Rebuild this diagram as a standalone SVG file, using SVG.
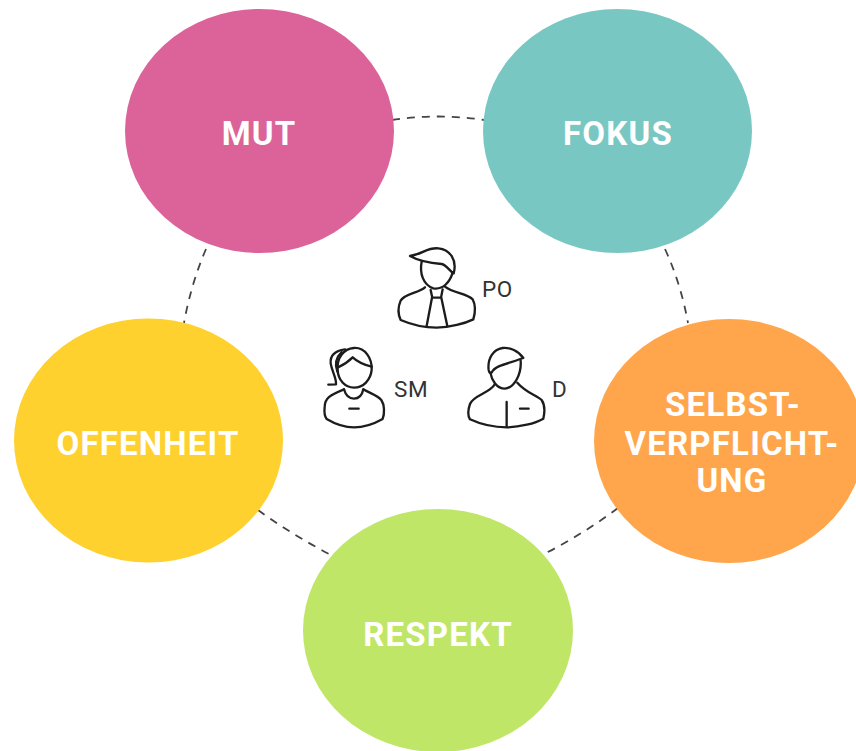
<svg xmlns="http://www.w3.org/2000/svg" width="856" height="751" viewBox="0 0 856 751">
<style>
.n{font-family:"Roboto","Liberation Sans",sans-serif;font-weight:700;font-size:33px;fill:#fff;text-anchor:middle;letter-spacing:1.2px}
.l{font-family:"Roboto","Liberation Sans",sans-serif;font-size:22.500px;fill:#333;letter-spacing:.6px}
.c{fill:none;stroke:#444;stroke-width:1.8;stroke-dasharray:8 7}
.i{fill:none;stroke:#1c1c1c;stroke-width:7;stroke-linecap:round;stroke-linejoin:round}
</style>
<rect width="856" height="751" fill="#fff"/>
<g id="connectors">
<path class="c" d="M392 120Q438 113 484 120"/>
<path class="c" d="M206 249Q191 284 184 323"/>
<path class="c" d="M665 249Q681 284 688 323"/>
<path class="c" d="M258 510Q294 536 333 556"/>
<path class="c" d="M618 508Q582 535 542 555"/>
</g>
<g id="node-mut"><ellipse cx="259.500" cy="131" rx="134.500" ry="122" fill="#db6399"/><text class="n" x="259" y="145">MUT</text></g>
<g id="node-fokus"><ellipse cx="617.500" cy="131" rx="134.500" ry="122" fill="#79c7c2"/><text class="n" x="618" y="145">FOKUS</text></g>
<g id="node-offenheit"><ellipse cx="148.500" cy="440.500" rx="134.500" ry="122" fill="#ffd12e"/><text class="n" x="148" y="455">OFFENHEIT</text></g>
<g id="node-selbst"><ellipse cx="729" cy="441" rx="135" ry="122" fill="#ffa64d"/><text class="n" x="733" y="416">SELBST-</text><text class="n" x="732" y="455">VERPFLICHT-</text><text class="n" x="732" y="492">UNG</text></g>
<g id="node-respekt"><ellipse cx="438" cy="630.500" rx="135" ry="121.500" fill="#c0e668"/><text class="n" x="438" y="646">RESPEKT</text></g>
<g id="node-po">
<g transform="translate(310 230) scale(.3333)" class="i">
<path d="M300 78C340 72 350 52 385 55C420 58 442 90 431 130C420 125 410 105 395 102C370 100 330 95 300 78Z"/>
<path d="M335 95C328 130 340 165 370 175C400 180 420 155 428 128"/>
<path d="M345 172C325 190 285 190 272 212C262 235 265 255 272 270C300 282 340 293 380 293C420 293 465 280 490 268C497 245 497 225 488 208C470 190 430 190 405 170"/>
<path d="M362 180L367 203L393 203L398 178M366 203L350 288M394 203L412 288"/>
</g>
<text class="l" x="482" y="297">PO</text>
</g>
<g id="node-sm">
<g transform="translate(310 230) scale(.3333)" class="i">
<path d="M132 354C165 352 187 385 185 420C182 450 160 473 132 473C105 473 84 450 83 420C80 385 100 356 132 354Z"/>
<path d="M84 412C100 405 115 395 128 382C142 395 165 405 185 410"/>
<path d="M105 358C75 362 60 375 62 400C66 425 80 445 78 463L55 464"/>
<path d="M95 366C75 385 75 405 82 425"/>
<path d="M102 478C60 495 45 505 44 530C42 550 44 560 50 567C75 582 105 592 132 592C165 592 195 580 218 567C224 550 224 525 214 510C200 495 180 490 160 478"/>
<path d="M102 478C108 500 120 506 132 506C145 506 156 498 160 478"/>
<path d="M118 536H146"/>
</g>
<text class="l" x="394" y="397">SM</text>
</g>
<g id="node-d">
<g transform="translate(310 230) scale(.3333)" class="i">
<path d="M640 384C625 362 600 352 578 354C550 358 532 385 536 420C538 430 542 430 545 428C555 405 600 400 640 384Z"/>
<path d="M632 392C635 430 615 473 585 476C560 476 545 450 541 428"/>
<path d="M555 462C540 490 490 495 480 522C472 545 475 560 480 568C510 582 550 592 590 592C630 592 675 580 700 566C705 545 705 525 695 510C680 495 650 490 622 458"/>
<path d="M590 516V590M630 536H656"/>
</g>
<text class="l" x="552" y="397">D</text>
</g>
</svg>
